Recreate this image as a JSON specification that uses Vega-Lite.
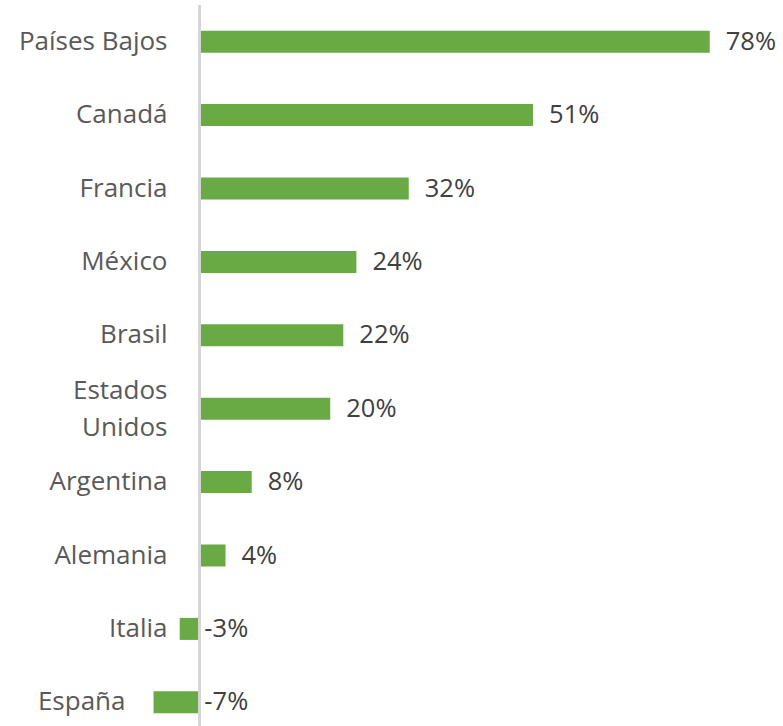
{
  "$schema": "https://vega.github.io/schema/vega-lite/v6.json",
  "autosize": {"type": "none"},
  "width": 602,
  "height": 721,
  "padding": {"left": 147, "top": 5, "right": 34, "bottom": 0},
  "background": "white",
  "config": {"view": {"stroke": null}},
  "data": {
    "values": [
      {"pais": "Países Bajos", "valor": 78, "etiqueta": "78%"},
      {"pais": "Canadá", "valor": 51, "etiqueta": "51%"},
      {"pais": "Francia", "valor": 32, "etiqueta": "32%"},
      {"pais": "México", "valor": 24, "etiqueta": "24%"},
      {"pais": "Brasil", "valor": 22, "etiqueta": "22%"},
      {"pais": "Estados Unidos", "valor": 20, "etiqueta": "20%"},
      {"pais": "Argentina", "valor": 8, "etiqueta": "8%"},
      {"pais": "Alemania", "valor": 4, "etiqueta": "4%"},
      {"pais": "Italia", "valor": -3, "etiqueta": "-3%"},
      {"pais": "España", "valor": -7, "etiqueta": "-7%"}
    ]
  },
  "encoding": {
    "y": {
      "field": "pais",
      "type": "nominal",
      "sort": null,
      "scale": {"range": [0, 734], "paddingInner": 0.7, "paddingOuter": 0.35},
      "axis": {
        "title": null,
        "domain": false,
        "ticks": false,
        "grid": false,
        "offset": -20,
        "labelPadding": {"condition": {"test": "datum.value == 'España'", "value": 42}, "value": 0},
        "labelOffset": {"condition": {"test": "datum.value == 'Estados Unidos'", "value": -18}, "value": 0},
        "labelFont": "Open Sans",
        "labelFontSize": 26,
        "labelColor": "#595959",
        "labelLineHeight": 37,
        "labelExpr": "datum.value == 'Estados Unidos' ? ['Estados', 'Unidos'] : datum.value"
      }
    }
  },
  "layer": [
    {
      "mark": {"type": "bar", "color": "#6aaa44"},
      "encoding": {
        "x": {
          "field": "valor",
          "type": "quantitative",
          "scale": {"domain": [-8, 84], "nice": false, "zero": false},
          "axis": null
        }
      }
    },
    {
      "mark": {"type": "rule", "color": "#d6d6d6", "strokeWidth": 2.5},
      "encoding": {"x": {"datum": 0, "type": "quantitative"}, "y": null}
    },
    {
      "transform": [{"filter": "datum.valor >= 0"}],
      "mark": {"type": "text", "align": "left", "baseline": "middle", "dx": 16, "font": "Open Sans", "fontSize": 25.5, "color": "#404040"},
      "encoding": {
        "x": {"field": "valor", "type": "quantitative"},
        "text": {"field": "etiqueta"}
      }
    },
    {
      "transform": [{"filter": "datum.valor < 0"}],
      "mark": {"type": "text", "align": "left", "baseline": "middle", "dx": 5, "font": "Open Sans", "fontSize": 25.5, "color": "#404040"},
      "encoding": {
        "x": {"datum": 0, "type": "quantitative"},
        "text": {"field": "etiqueta"}
      }
    }
  ]
}
